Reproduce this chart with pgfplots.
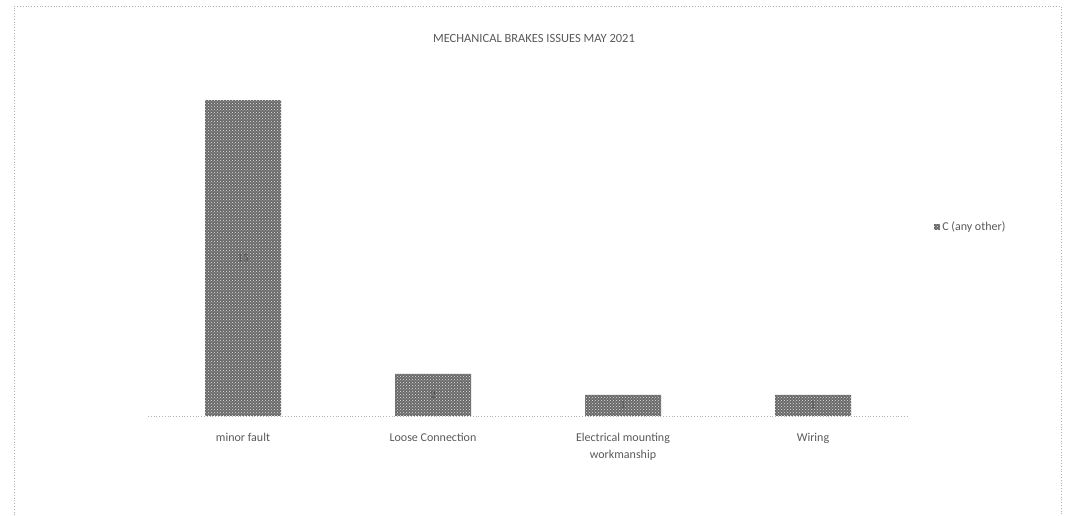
\documentclass[border=0pt]{standalone}
\usepackage{pgfplots}
\pgfplotsset{compat=1.18}
\usepackage{fontspec}
\setmainfont{Carlito}
\usetikzlibrary{patterns}
\definecolor{txt}{RGB}{89,89,89}
\definecolor{barfill}{RGB}{105,105,105}
\begin{document}
\begin{tikzpicture}[x=1pt,y=1pt]
\useasboundingbox (0,0) rectangle (1066,516);
\draw[gray!60, dotted, line width=0.8pt] (14,-2) -- (14,510) -- (1061,510) -- (1061,-2);
\node[txt, font=\fontsize{12.5}{14}\selectfont] at (534,478) {MECHANICAL BRAKES ISSUES MAY 2021};
\begin{axis}[
  at={(148pt,100pt)}, anchor=south west,
  scale only axis, width=760pt, height=337pt,
  xmin=-0.5, xmax=3.5, ymin=0, ymax=16,
  axis x line*=bottom, axis y line=none,
  x axis line style={gray!60, dotted, line width=0.8pt, -},
  xtick=data, xtick style={draw=none},
  xticklabels={minor fault, Loose Connection, {Electrical mounting\\workmanship}, Wiring},
  xticklabel style={txt, align=center, font=\fontsize{12}{17}\selectfont, yshift=-9pt},
  ybar, bar width=76pt,
  clip=false,
  visualization depends on=y \as \rawy,
  nodes near coords,
  every node near coord/.append style={anchor=center, black!70, font=\fontsize{11}{13}\selectfont, shift={(axis direction cs:0,-\rawy/2)}},
  legend style={at={(1.03,0.56)}, anchor=west, draw=none, font=\fontsize{12}{14}\selectfont, text=txt, legend cell align=left},
  legend image code/.code={\fill[barfill, draw=none] (0cm,-0.11cm) rectangle (0.22cm,0.11cm);},
]
\addplot[fill=barfill, draw=none, postaction={pattern=crosshatch dots, pattern color=white!80!gray}] coordinates {(0,15) (1,2) (2,1) (3,1)};
\addlegendentry{C (any other)}
\end{axis}
\end{tikzpicture}
\end{document}
